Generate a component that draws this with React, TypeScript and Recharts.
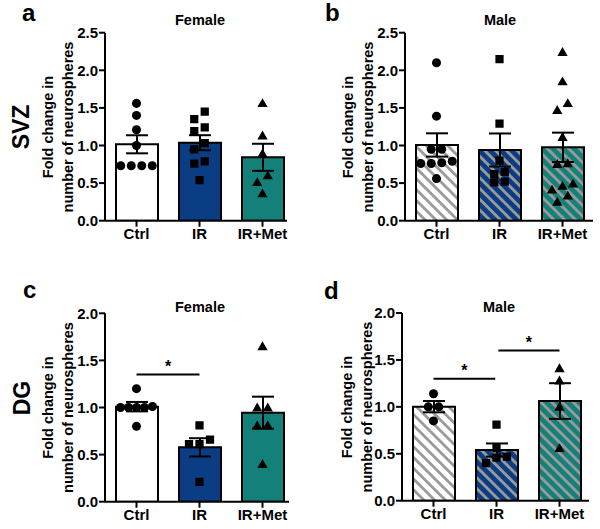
import React from 'react';
import {
  ComposedChart,
  Bar,
  Cell,
  ErrorBar,
  Scatter,
  XAxis,
  YAxis,
  ReferenceLine,
  Symbols
} from 'recharts';

const groups = ['Ctrl', 'IR', 'IR+Met'];
const yTicksSVZ = [0, 0.5, 1, 1.5, 2, 2.5];
const yTicksDG = [0, 0.5, 1, 1.5, 2];

// a: SVZ female
const svzFemaleMean = [1.016, 1.037, 0.843];
const svzFemaleSem = [0.12, 0.1, 0.18];
const svzFemaleCtrl = [1.56, 1.4, 1.21, 1.0, 0.73, 0.73, 0.73, 0.73];
const svzFemaleIR = [1.45, 1.35, 1.24, 1.19, 1.03, 0.95, 0.79, 0.76, 0.54];
const svzFemaleMet = [1.55, 1.12, 0.88, 0.59, 0.5, 0.35];

// b: SVZ male
const svzMaleMean = [1.007, 0.94, 0.976];
const svzMaleSem = [0.155, 0.22, 0.195];
const svzMaleCtrl = [2.1, 1.39, 0.95, 0.95, 0.79, 0.77, 0.76, 0.76, 0.56];
const svzMaleIR = [2.15, 1.29, 0.8, 0.65, 0.62, 0.52, 0.51];
const svzMaleMet = [2.23, 1.84, 1.55, 1.46, 1.1, 0.75, 0.74, 0.48, 0.45, 0.4, 0.32, 0.24];

// c: DG female
const dgFemaleMean = [1.009, 0.577, 0.945];
const dgFemaleSem = [0.05, 0.097, 0.17];
const dgFemaleCtrl = [1.2, 1.0, 1.0, 1.01, 1.0, 1.0, 0.8];
const dgFemaleIR = [0.81, 0.66, 0.61, 0.61, 0.21];
const dgFemaleMet = [1.64, 0.99, 0.99, 0.8, 0.8, 0.39];
const dgFemaleSig = [{ from: 1, to: 2, y: 1.35 }];

// d: DG male
const dgMaleMean = [1.002, 0.54, 1.062];
const dgMaleSem = [0.06, 0.07, 0.19];
const dgMaleCtrl = [1.14, 1.0, 1.0, 0.85];
const dgMaleIR = [0.81, 0.56, 0.47, 0.46, 0.4];
const dgMaleMet = [1.4, 1.27, 0.99, 0.55];
const dgMaleSig = [
  { from: 1, to: 1.98, y: 1.3 },
  { from: 2.03, to: 3, y: 1.6 }
];

const FONT = '"Liberation Sans", Arial, Helvetica, sans-serif';
const COLORS = ['#ffffff', '#0b3d85', '#138179'];
const STRIPE = '#9a9a9a';
const SHAPES = ['circle', 'square', 'triangle'] as const;
const SHAPE_SIZE: Record<string, number> = { circle: 64, square: 68, triangle: 46 };
const UNIT_PX = 63;
const ROW_PX = 8;

// GraphPad-like scatter: values that sit within one marker height share a row, centred on the bar
function swarm(vals: number[], pxPerY: number, pxPerX: number) {
  const order = vals.map((_, i) => i).sort((a, b) => vals[b] - vals[a]);
  const out = new Array(vals.length).fill(0);
  let row: number[] = [];
  const flush = () => {
    const r = [...row].sort((a, b) => vals[a] - vals[b]);
    const step = r.length > 1 ? Math.min(10.5, 32 / (r.length - 1)) : 0;
    r.forEach((k, j) => {
      out[k] = ((j - (r.length - 1) / 2) * step) / pxPerX;
    });
    row = [];
  };
  for (const i of order) {
    if (row.length && (vals[row[0]] - vals[i]) * pxPerY >= ROW_PX) flush();
    row.push(i);
  }
  flush();
  return out;
}

interface Layout {
  left: number;
  top: number;
  height: number;
  axisX: number;
  plotTop: number;
  plotBottom: number;
  axisEnd: number;
}

interface PanelProps {
  id: string;
  layout: Layout;
  yTicks: number[];
  means: number[];
  sems: number[];
  points: number[][];
  hatched: boolean;
  sig?: { from: number; to: number; y: number }[];
}

const Panel: React.FC<PanelProps> = ({ id, layout, yTicks, means, sems, points, hatched, sig = [] }) => {
  const width = 300;
  const yMax = yTicks[yTicks.length - 1];
  const plotW = layout.axisEnd - layout.axisX;
  const plotH = layout.plotBottom - layout.plotTop;
  const xMax = 0.5 + plotW / UNIT_PX;
  const barData = groups.map((g, i) => ({ x: i + 1, name: g, mean: means[i], sem: sems[i] }));
  const scatterData = points.map((vals, i) => {
    const offs = swarm(vals, plotH / yMax, UNIT_PX);
    return vals.map((v, k) => ({ x: i + 1 + offs[k], y: v }));
  });
  const tickStyle = { fill: '#000', fontSize: 15, fontWeight: 'bold', fontFamily: FONT };

  return (
    <div style={{ position: 'absolute', left: layout.left, top: layout.top }}>
      <ComposedChart
        width={width}
        height={layout.height}
        data={barData}
        margin={{
          top: layout.plotTop,
          left: layout.axisX - 40,
          right: width - layout.axisEnd,
          bottom: layout.height - layout.plotBottom - 24
        }}
      >
        <XAxis
          xAxisId="cat"
          dataKey="name"
          type="category"
          hide
          height={0}
          padding={{ left: 0, right: plotW - 3 * UNIT_PX }}
        />
        <XAxis
          xAxisId="num"
          dataKey="x"
          type="number"
          domain={[0.5, xMax]}
          allowDataOverflow
          ticks={[1, 2, 3]}
          interval={0}
          tickFormatter={(v: number) => groups[Math.round(v) - 1]}
          height={24}
          tickSize={6}
          axisLine={{ stroke: '#000', strokeWidth: 2 }}
          tickLine={{ stroke: '#000', strokeWidth: 2 }}
          tick={tickStyle}
        />
        <YAxis
          type="number"
          domain={[0, yMax]}
          allowDataOverflow
          ticks={yTicks}
          interval={0}
          width={40}
          tickSize={6}
          tickMargin={1}
          tickFormatter={(v: number) => v.toFixed(1)}
          axisLine={{ stroke: '#000', strokeWidth: 2 }}
          tickLine={{ stroke: '#000', strokeWidth: 2 }}
          tick={tickStyle}
        />
        <Bar xAxisId="cat" dataKey="mean" barSize={42} stroke="#000" strokeWidth={2} isAnimationActive={false}>
          {barData.map((_, i) => (
            <Cell key={i} fill={hatched ? `url(#${id}-h${i})` : COLORS[i]} />
          ))}
          <ErrorBar dataKey="sem" width={11} stroke="#000" strokeWidth={2} direction="y" />
        </Bar>
        {scatterData.map((pts, i) => (
          <Scatter
            key={i}
            xAxisId="num"
            data={pts}
            dataKey="y"
            isAnimationActive={false}
            shape={(p: any) => (
              <Symbols
                cx={p.cx}
                cy={p.cy}
                type={SHAPES[i]}
                size={SHAPE_SIZE[SHAPES[i]]}
                fill="#000"
              />
            )}
          />
        ))}
        {sig.map((s, k) => (
          <ReferenceLine
            key={k}
            xAxisId="num"
            segment={[
              { x: s.from, y: s.y },
              { x: s.to, y: s.y }
            ]}
            stroke="#000"
            strokeWidth={2}
            ifOverflow="visible"
            label={{ value: '*', position: 'top', offset: 3, fill: '#000', fontSize: 16, fontWeight: 'bold', fontFamily: FONT }}
          />
        ))}
      </ComposedChart>
    </div>
  );
};

const Hatches: React.FC<{ id: string }> = ({ id }) => (
  <>
    {COLORS.map((c, i) => (
      <pattern
        key={i}
        id={`${id}-h${i}`}
        patternUnits="userSpaceOnUse"
        width={7.6}
        height={7.6}
        patternTransform="rotate(-45)"
      >
        <rect x={0} y={0} width={7.6} height={7.6} fill={c} />
        <rect x={0} y={0} width={2.8} height={7.6} fill={STRIPE} />
      </pattern>
    ))}
  </>
);

const txt = { fontFamily: FONT, fontWeight: 'bold' as const, fill: '#000' };

const YTitle: React.FC<{ x: number; y: number }> = ({ x, y }) => (
  <>
    <text x={x} y={y} transform={`rotate(-90 ${x} ${y})`} textAnchor="middle" dominantBaseline="central" fontSize={14.5} style={txt}>
      Fold change in
    </text>
    <text x={x + 20} y={y} transform={`rotate(-90 ${x + 20} ${y})`} textAnchor="middle" dominantBaseline="central" fontSize={14.5} style={txt}>
      number of neurospheres
    </text>
  </>
);

export default function App() {
  return (
    <div style={{ position: 'absolute', left: 0, top: 0, width: 600, height: 529, background: '#fff', fontFamily: FONT }}>
      <svg width={0} height={0} style={{ position: 'absolute' }}>
        <defs>
          <Hatches id="b" />
          <Hatches id="d" />
        </defs>
      </svg>

      <Panel
        id="a"
        layout={{ left: 0, top: 0, height: 260, axisX: 105, plotTop: 32.7, plotBottom: 220.7, axisEnd: 287 }}
        yTicks={yTicksSVZ}
        means={svzFemaleMean}
        sems={svzFemaleSem}
        points={[svzFemaleCtrl, svzFemaleIR, svzFemaleMet]}
        hatched={false}
      />
      <Panel
        id="b"
        layout={{ left: 300, top: 0, height: 260, axisX: 105, plotTop: 32.7, plotBottom: 220.7, axisEnd: 293 }}
        yTicks={yTicksSVZ}
        means={svzMaleMean}
        sems={svzMaleSem}
        points={[svzMaleCtrl, svzMaleIR, svzMaleMet]}
        hatched
      />
      <Panel
        id="c"
        layout={{ left: 0, top: 260, height: 269, axisX: 105, plotTop: 53.3, plotBottom: 241.7, axisEnd: 289 }}
        yTicks={yTicksDG}
        means={dgFemaleMean}
        sems={dgFemaleSem}
        points={[dgFemaleCtrl, dgFemaleIR, dgFemaleMet]}
        hatched={false}
        sig={dgFemaleSig}
      />
      <Panel
        id="d"
        layout={{ left: 300, top: 260, height: 269, axisX: 102, plotTop: 53, plotBottom: 240.7, axisEnd: 289 }}
        yTicks={yTicksDG}
        means={dgMaleMean}
        sems={dgMaleSem}
        points={[dgMaleCtrl, dgMaleIR, dgMaleMet]}
        hatched
        sig={dgMaleSig}
      />

      <svg width={600} height={529} style={{ position: 'absolute', left: 0, top: 0, pointerEvents: 'none' }}>
        <text x={22} y={20.5} fontSize={24} style={txt}>a</text>
        <text x={325} y={21} fontSize={24} style={txt}>b</text>
        <text x={23} y={298} fontSize={24} style={txt}>c</text>
        <text x={324} y={299} fontSize={24} style={txt}>d</text>

        <text x={200} y={25} textAnchor="middle" fontSize={14.5} style={txt}>Female</text>
        <text x={500} y={25} textAnchor="middle" fontSize={14.5} style={txt}>Male</text>
        <text x={200} y={312} textAnchor="middle" fontSize={14.5} style={txt}>Female</text>
        <text x={499} y={311.5} textAnchor="middle" fontSize={14.5} style={txt}>Male</text>

        <text x={21} y={127} transform="rotate(-90 21 127)" textAnchor="middle" dominantBaseline="central" fontSize={23} style={txt}>SVZ</text>
        <text x={22} y={398} transform="rotate(-90 22 398)" textAnchor="middle" dominantBaseline="central" fontSize={23} style={txt}>DG</text>

        <YTitle x={48} y={127} />
        <YTitle x={348} y={127} />
        <YTitle x={48} y={407.5} />
        <YTitle x={346.5} y={407} />
      </svg>
    </div>
  );
}
